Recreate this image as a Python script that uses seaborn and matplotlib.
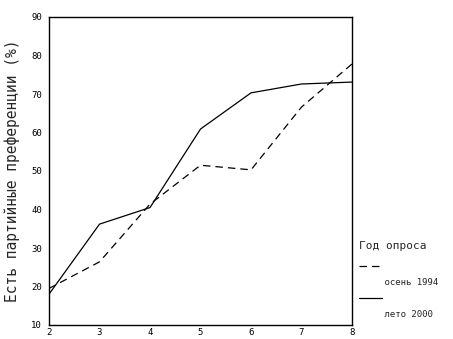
import matplotlib
matplotlib.use("Agg")
import matplotlib.pyplot as plt
from matplotlib.lines import Line2D
import seaborn as sns
import pandas as pd

x_vals = [2, 3, 4, 5, 6, 7, 8]
autumn_1994 = [19.5, 26.4, 41.4, 51.5, 50.3, 66.6, 77.8]
summer_2000 = [18.0, 36.2, 40.5, 60.9, 70.3, 72.6, 73.1]
series_names = ["осень 1994", "лето 2000"]
y_ticks = [10, 20, 30, 40, 50, 60, 70, 80, 90]

df = pd.DataFrame({
    "x": x_vals * 2,
    "y": autumn_1994 + summer_2000,
    "Год опроса": [series_names[0]] * len(x_vals) + [series_names[1]] * len(x_vals),
})

sns.set_style("white")
plt.rcParams["font.family"] = ["DejaVu Sans Mono"]

fig = plt.figure(figsize=(4.53, 3.39), dpi=100)
ax = fig.add_axes([49 / 453, 1 - 325 / 339, (352 - 49) / 453, (325 - 17) / 339])

sns.lineplot(data=df, x="x", y="y", style="Год опроса", color="black",
             dashes={series_names[0]: (6, 4), series_names[1]: ""},
             linewidth=0.9, ax=ax, legend=True)

ax.set_xlim(2, 8)
ax.set_ylim(10, 90)
ax.set_xticks(x_vals)
ax.set_yticks(y_ticks)
ax.tick_params(direction="in", length=3, width=2, labelsize=6.5, colors="black")
ax.tick_params(axis="y", pad=5)
ax.tick_params(axis="x", pad=2)
ax.set_xlabel("")
ax.set_ylabel("Есть партийные преференции (%)", fontsize=10.5, labelpad=8)
for s in ax.spines.values():
    s.set_color("black")
    s.set_linewidth(1.0)

handles, labels = ax.get_legend_handles_labels()
blank = Line2D([], [], linestyle="none")
new_handles, new_labels = [], []
for h, l in zip(handles, labels):
    new_handles += [h, blank]
    new_labels += ["", "    " + l]
leg = ax.legend(new_handles, new_labels, title="Год опроса", loc="upper left",
                bbox_to_anchor=(1.005, 0.29),
                frameon=False, fontsize=6.5, title_fontsize=8, handlelength=2.5,
                handletextpad=-2.0, labelspacing=0.75,
                borderaxespad=0.2, alignment="left")
leg._legend_box.sep = 8

fig.savefig("out.png", dpi=100)
